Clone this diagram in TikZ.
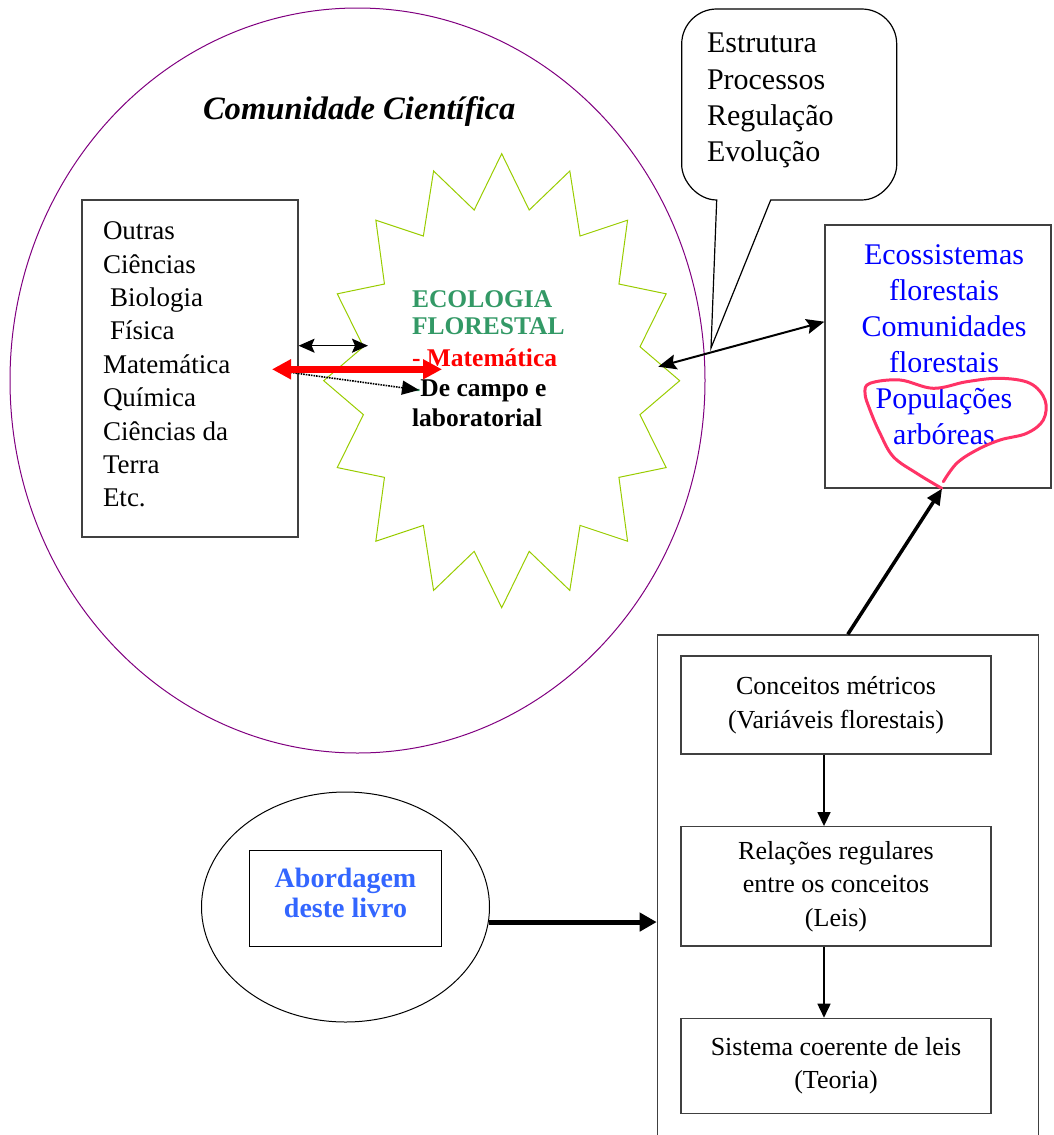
\documentclass[tikz,border=0pt]{standalone}
\usepackage{fontspec}
\setmainfont{Liberation Serif}
\usetikzlibrary{shapes.geometric, arrows.meta}
\definecolor{circpurple}{HTML}{800080}
\definecolor{stargreen}{HTML}{99CC00}
\definecolor{ecogreen}{HTML}{339966}
\definecolor{levelblue}{HTML}{0000FF}
\definecolor{bookblue}{HTML}{3366FF}
\definecolor{loopred}{HTML}{FF3366}
\definecolor{boxgray}{HTML}{404040}
\begin{document}
\begin{tikzpicture}[x=1pt, y=-1pt,
  txt/.style={inner sep=0pt, outer sep=0pt},
  listtxt/.style={txt, align=left, font=\fontsize{27}{33.4}\selectfont},
  calltxt/.style={txt, align=left, font=\fontsize{30}{36.3}\selectfont},
  leveltxt/.style={txt, align=center, text=levelblue, font=\fontsize{30}{36}\selectfont},
  startxt/.style={txt, anchor=base west, font=\fontsize{25.5}{30}\selectfont\bfseries},
  flowbox/.style={draw=boxgray, line width=1.2pt, inner sep=0pt, minimum width=310, align=center, font=\fontsize{26}{33.5}\selectfont},
  plainbox/.style={draw=boxgray, line width=1.2pt, inner sep=0pt},
  starline/.style={draw=stargreen, line width=1pt, line join=miter},
  thinarr/.style={line width=1.5pt, arrows={Stealth[length=16pt,width=14pt,inset=3pt]-Stealth[length=16pt,width=14pt,inset=3pt]}},
  linkarr/.style={line width=2pt, arrows={Stealth[length=18pt,width=15pt,inset=3pt]-Stealth[length=18pt,width=15pt,inset=3pt]}},
  redarr/.style={red, line width=6.5pt, arrows={Triangle[length=19pt,width=19pt]-Triangle[length=19pt,width=19pt]}},
  dotarr/.style={densely dotted, line width=1.6pt, arrows={-Triangle[length=17pt,width=14pt]}},
  flowarr/.style={line width=1.6pt, arrows={-Triangle[length=14pt,width=13pt]}},
  heavyarr/.style={line width=5pt, arrows={-Triangle[length=17pt,width=18pt]}},
  uparr/.style={line width=3.5pt, arrows={-Triangle[length=16pt,width=14pt]}}
]
\useasboundingbox (0,0) rectangle (1054,1135);
\clip (0,0) rectangle (1054,1135);

% scientific community
\node[ellipse, draw=circpurple, line width=1pt, minimum width=695, minimum height=745, inner sep=0pt] (community) at (357.5,380.5) {};
\node[txt, anchor=base west, font=\fontsize{32.6}{38}\selectfont\bfseries\itshape] (commtitle) at (203,119) {Comunidade Científica};

% other sciences
\node[plainbox, minimum width=216, minimum height=337] (others) at (190,368.5) {};
\node[listtxt, anchor=west] (otherslist) at (103,364.5) {Outras\\Ciências\\\hspace*{7pt}Biologia\\\hspace*{7pt}Física\\Matemática\\Química\\Ciências da\\Terra\\Etc.};

% forest ecology star
\begin{scope}[shift={(501.7,380.7)}]
\draw[starline] (90:178 and 227)
  \foreach \a in {0,22.5,...,337.5} { -- ({78.75-\a}:141 and 174) -- ({67.5-\a}:178 and 227) } -- cycle;
\end{scope}
\node[startxt, text=ecogreen] (ecoA) at (412,307) {ECOLOGIA};
\node[startxt, text=ecogreen] (ecoB) at (412,334.3) {FLORESTAL};
\node[startxt, text=red] (ecoC) at (412,366.7) {- Matemática};
\node[startxt] (ecoD) at (412,396.7) {\textcolor{ecogreen}{-}De campo e};
\node[startxt] (ecoE) at (412,426.7) {laboratorial};

\coordinate (starW) at (368,345.7);
\coordinate (redL) at (272,369.3);
\coordinate (redR) at (442,369.3);
\coordinate (dotL) at (280,371);
\coordinate (dotR) at (419,390);
\coordinate (starE) at (658.3,366.7);

\draw[thinarr] ([yshift=22.8pt]others.east) -- (starW);
\draw[dotarr] (dotL) -- (dotR);
\draw[redarr] (redL) -- (redR);

% callout bubble
\draw[line width=1.2pt, line join=miter] (716.7,200) -- (711,348) -- (770.7,200) -- (861.7,200)
  .. controls (881,200) and (896.7,180.7) .. (896.7,165) -- (896.7,44)
  .. controls (896.7,24.7) and (881,9) .. (861.7,9) -- (716.7,9)
  .. controls (697.4,9) and (681.7,24.7) .. (681.7,44) -- (681.7,165)
  .. controls (681.7,180.7) and (697.4,200) .. (716.7,200) -- cycle;
\node[calltxt, anchor=west] (aspects) at (707,100.8) {Estrutura\\Processos\\Regulação\\Evolução};

% organisation levels
\node[plainbox, minimum width=226, minimum height=263] (eco) at (938,356.5) {};
\node[leveltxt] (levels) at (944,344.8) {Ecossistemas\\florestais\\Comunidades\\florestais\\Populações\\arbóreas};
\draw[loopred, line width=3pt, line cap=round] plot[smooth, tension=0.6] coordinates {(941.7,488.3) (916.7,473.3) (893.3,456.7) (880,433.3) (870,410) (865,393.3) (870,383.3) (900,380) (933.3,388.3) (966.7,381.7) (1000,378.3) (1030,383.3) (1045,400) (1043.3,420) (1026.7,433.3) (1000,440) (976.7,450) (956.7,463.3) (943.3,481.7)};

\draw[linkarr] (starE) -- ([yshift=34.8pt]eco.west);

% theory construction
\node[plainbox, anchor=north, minimum width=381, minimum height=530] (frame) at (847.8,634.3) {};
\node[flowbox, minimum height=98] (metric) at (836,705) {Conceitos métricos\\(Variáveis florestais)};
\node[flowbox, minimum height=119.3] (laws) at (836,886.3) {Relações regulares\\entre os conceitos\\(Leis)};
\node[flowbox, minimum height=95] (theory) at (836,1065.8) {Sistema coerente de leis\\(Teoria)};
\draw[flowarr] ([xshift=-12pt]metric.south) -- ([xshift=-12pt]laws.north);
\draw[flowarr] ([xshift=-12pt]laws.south) -- ([xshift=-12pt]theory.north);
\draw[uparr] (frame.north) -- ([xshift=4pt]eco.south);

% approach of the book
\node[ellipse, draw, line width=1pt, minimum width=288, minimum height=230, inner sep=0pt] (abell) at (345.5,907) {};
\node[draw, line width=1pt, minimum width=192.4, minimum height=95.3, inner sep=0pt] (bookbox) at (345.5,898.4) {};
\node[txt, align=center, text=bookblue, font=\fontsize{28}{30.6}\selectfont\bfseries] (booktxt) at (345.5,892.8) {Abordagem\\deste livro};
\draw[heavyarr] (abell.-6.4) -- (abell.-6.4 -| frame.west);
\end{tikzpicture}
\end{document}
